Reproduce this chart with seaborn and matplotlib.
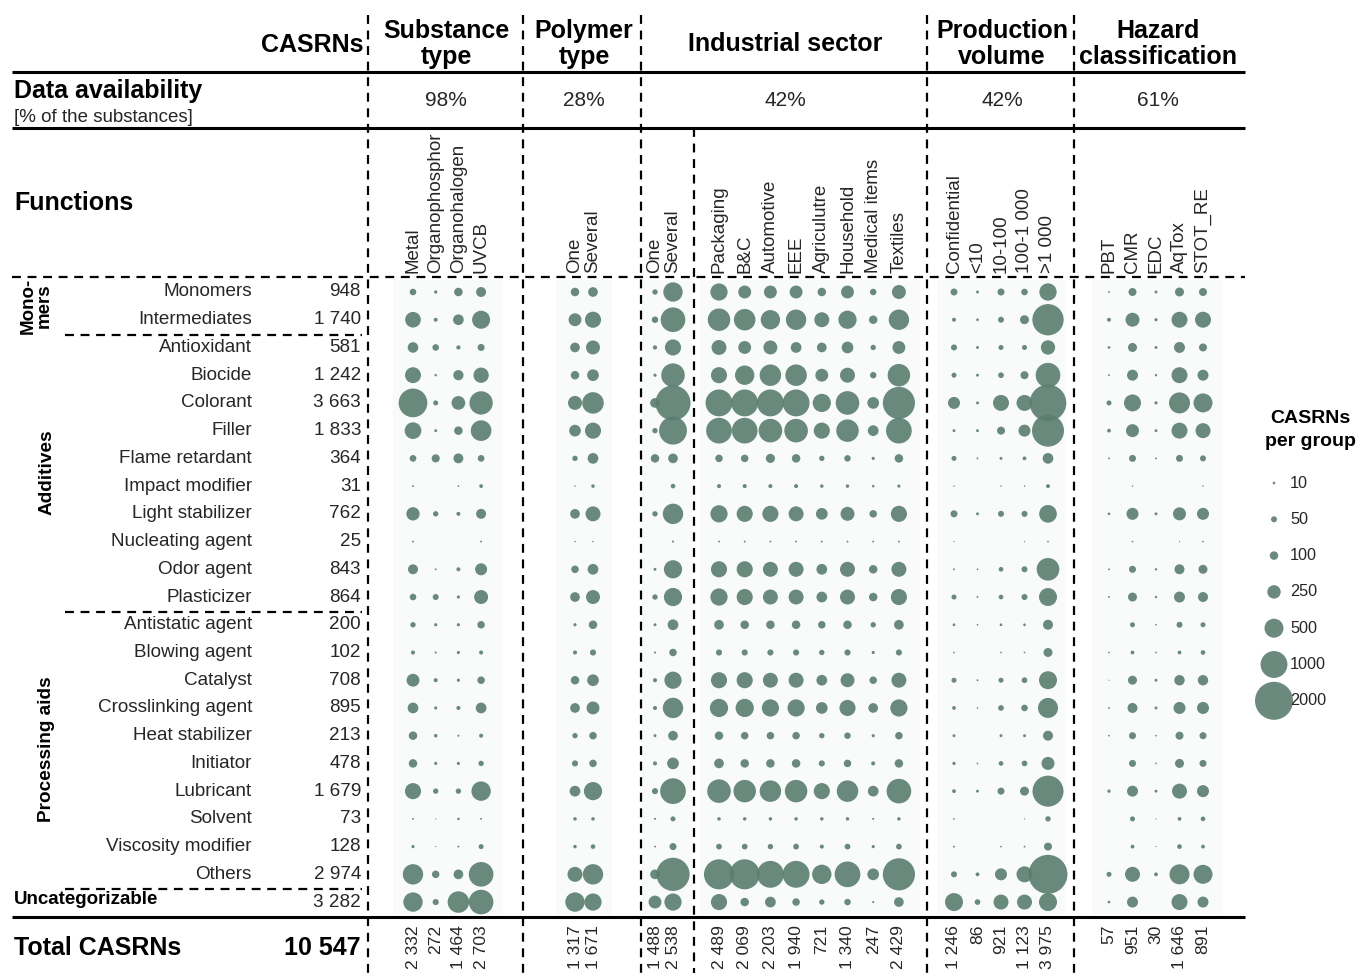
import pandas as pd
import seaborn as sns
import matplotlib
matplotlib.use("Agg")
import matplotlib.pyplot as plt
from matplotlib.patches import Rectangle

# ---- data -----------------------------------------------------------------
functions = ["Monomers", "Intermediates", "Antioxidant", "Biocide", "Colorant", "Filler",
             "Flame retardant", "Impact modifier", "Light stabilizer", "Nucleating agent",
             "Odor agent", "Plasticizer", "Antistatic agent", "Blowing agent", "Catalyst",
             "Crosslinking agent", "Heat stabilizer", "Initiator", "Lubricant", "Solvent",
             "Viscosity modifier", "Others", "Uncategorizable"]
function_totals = [948, 1740, 581, 1242, 3663, 1833, 364, 31, 762, 25, 843, 864, 200, 102,
                   708, 895, 213, 478, 1679, 73, 128, 2974, 3282]
total_casrns = 10547

group_titles = ["Substance\ntype", "Polymer\ntype", "Industrial sector", "Production\nvolume",
                "Hazard\nclassification"]
availability = ["98%", "28%", "42%", "42%", "61%"]

substance_types = ["Metal", "Organophosphor", "Organohalogen", "UVCB"]
polymer_types = ["One", "Several"]
sector_counts = ["One", "Several"]
sectors = ["Packaging", "B&C", "Automotive", "EEE", "Agriculutre", "Household",
           "Medical items", "Textiles"]
production_volumes = ["Confidential", "<10", "10-100", "100-1 000", ">1 000"]
hazards = ["PBT", "CMR", "EDC", "AqTox", "STOT_RE"]

substance_totals = [2332, 272, 1464, 2703]
polymer_totals = [1317, 1671]
sector_count_totals = [1488, 2538]
sector_totals = [2489, 2069, 2203, 1940, 721, 1340, 247, 2429]
production_totals = [1246, 86, 921, 1123, 3975]
hazard_totals = [57, 951, 30, 1646, 891]

# CASRNs per function (rows in the order of `functions`)
metal = [60, 340, 155, 350, 1140, 385, 62, 5, 245, 5, 138, 60, 40, 23, 230, 160, 100, 100, 360, 5, 14, 575, 520]
organophosphor = [15, 22, 60, 8, 35, 12, 90, 0, 40, 0, 5, 50, 14, 6, 23, 14, 17, 14, 40, 2, 2, 78, 52]
organohalogen = [100, 158, 25, 145, 260, 100, 135, 4, 22, 0, 22, 14, 14, 14, 14, 23, 6, 14, 40, 9, 5, 130, 640]
uvcb = [138, 450, 68, 325, 753, 590, 62, 20, 138, 5, 200, 270, 78, 23, 78, 160, 23, 40, 520, 5, 35, 840, 840]

poly_one = [100, 230, 130, 100, 270, 190, 40, 3, 130, 3, 78, 130, 14, 23, 100, 130, 40, 52, 160, 17, 17, 310, 520]
poly_several = [130, 360, 270, 190, 640, 360, 160, 17, 310, 3, 160, 270, 100, 52, 190, 230, 78, 78, 460, 17, 29, 575, 410]

sector_one = [40, 58, 25, 14, 130, 40, 100, 0, 40, 0, 12, 40, 12, 6, 23, 23, 12, 23, 52, 6, 5, 130, 230]
sector_several = [520, 840, 360, 770, 1700, 1075, 130, 29, 575, 6, 460, 460, 160, 78, 410, 575, 130, 190, 915, 35, 69, 1525, 410]

packaging = [410, 700, 310, 360, 1000, 915, 78, 23, 410, 5, 360, 410, 130, 52, 360, 460, 100, 130, 770, 17, 46, 1250, 360]
bc = [230, 640, 230, 520, 1000, 915, 78, 23, 360, 5, 360, 360, 100, 52, 360, 460, 78, 100, 700, 17, 46, 1250, 100]
automotive = [230, 520, 270, 640, 1000, 770, 115, 23, 360, 5, 310, 310, 100, 52, 310, 410, 78, 100, 640, 17, 40, 1000, 160]
eee = [230, 575, 160, 640, 1000, 770, 100, 23, 310, 5, 310, 310, 100, 52, 310, 410, 78, 100, 700, 17, 46, 1000, 78]
agriculture = [100, 310, 130, 230, 460, 360, 40, 17, 190, 5, 160, 160, 78, 40, 160, 190, 40, 52, 360, 17, 23, 520, 40]
household = [230, 460, 190, 310, 770, 700, 58, 17, 270, 5, 310, 310, 100, 52, 270, 360, 58, 78, 640, 17, 46, 915, 58]
medical = [58, 100, 40, 58, 190, 160, 14, 9, 78, 5, 100, 100, 40, 14, 78, 130, 14, 23, 160, 6, 14, 190, 6]
textiles = [270, 575, 230, 700, 1430, 915, 100, 14, 360, 5, 310, 360, 130, 52, 310, 410, 78, 100, 840, 17, 46, 1430, 130]

confidential = [68, 22, 50, 35, 200, 12, 35, 3, 68, 2, 5, 35, 10, 4, 35, 20, 12, 15, 20, 4, 5, 50, 450]
lt10 = [12, 10, 12, 12, 12, 12, 5, 0, 12, 0, 4, 5, 4, 0, 5, 4, 0, 4, 12, 0, 0, 20, 45]
p10_100 = [68, 50, 35, 45, 354, 89, 12, 3, 50, 0, 30, 30, 10, 4, 35, 45, 12, 30, 68, 0, 4, 200, 311]
p100_1000 = [60, 112, 35, 89, 354, 200, 20, 3, 50, 2, 50, 50, 10, 4, 45, 60, 12, 45, 112, 2, 5, 354, 311]
gt1000 = [416, 1357, 284, 843, 1860, 1417, 158, 22, 432, 4, 712, 448, 138, 112, 450, 554, 138, 234, 1330, 40, 89, 2100, 450]

pbt = [5, 22, 10, 5, 35, 20, 5, 0, 10, 0, 5, 5, 0, 4, 2, 5, 4, 0, 15, 0, 0, 35, 10]
cmr = [89, 271, 112, 167, 400, 234, 68, 3, 200, 4, 68, 112, 35, 20, 112, 138, 68, 68, 167, 35, 20, 311, 167]
edc = [12, 14, 12, 8, 14, 12, 5, 0, 12, 0, 8, 8, 4, 4, 12, 12, 4, 4, 12, 2, 2, 20, 0]
aqtox = [112, 354, 167, 354, 610, 354, 68, 0, 234, 2, 138, 167, 50, 20, 150, 200, 89, 112, 311, 20, 30, 554, 354]
stot_re = [89, 354, 89, 167, 500, 311, 50, 3, 200, 4, 112, 138, 35, 30, 150, 200, 68, 68, 200, 30, 20, 500, 167]

legend_values = [10, 50, 100, 250, 500, 1000, 2000]

# ---- layout (figure pixels) -------------------------------------------------
W, H = 1358, 973
ROW_Y0, ROW_STEP = 292, 27.73
BUBBLE = "#5b7d6f"
LEFT, RIGHT = 12, 1245

# column blocks: labels, values, totals, first x, spacing
blocks = [
    (substance_types, [metal, organophosphor, organohalogen, uvcb], substance_totals, 413, 22.7),
    (polymer_types, [poly_one, poly_several], polymer_totals, 575, 18),
    (sector_counts, [sector_one, sector_several], sector_count_totals, 655, 18),
    (sectors, [packaging, bc, automotive, eee, agriculture, household, medical, textiles],
     sector_totals, 719, 25.7),
    (production_volumes, [confidential, lt10, p10_100, p100_1000, gt1000], production_totals, 954, 23.5),
    (hazards, [pbt, cmr, edc, aqtox, stot_re], hazard_totals, 1109, 23.5),
]
group_centers = [446, 584, 785, 1002, 1158]
group_bands = [(393, 502), (556, 612), (642, 692), (700, 920), (937, 1066), (1092, 1222)]
vlines = [368, 523, 641, 927, 1074]


def fmt(n):
    return f"{n:,}".replace(",", " ")


def row_y(i):
    return ROW_Y0 + i * ROW_STEP


records = []
col_x = []
for labels, values, totals, x0, step in blocks:
    for j, (lab, vals, tot) in enumerate(zip(labels, values, totals)):
        x = x0 + j * step
        col_x.append((x, lab, tot))
        for i, v in enumerate(vals):
            records.append({"x": x, "y": row_y(i), "value": v})
df = pd.DataFrame(records)
df = df[df["value"] > 0]

sns.set_theme(style="white")
plt.rcParams["font.family"] = ["Liberation Sans", "DejaVu Sans"]

fig = plt.figure(figsize=(W / 100, H / 100), dpi=100)
ax = fig.add_axes([0, 0, 1, 1])
ax.set_xlim(0, W)
ax.set_ylim(H, 0)
ax.axis("off")

# faint background bands behind the bubble columns
for x0, x1 in group_bands:
    ax.add_patch(Rectangle((x0, 280), x1 - x0, 634, color="#f8fbfa", zorder=0, lw=0))

size_kw = dict(sizes=(0, 1498), size_norm=(0, 4000))
sns.scatterplot(data=df, x="x", y="y", size="value", color=BUBBLE, alpha=0.9,
                linewidth=0, legend=False, ax=ax, zorder=3, **size_kw)

# ---- lines ------------------------------------------------------------------
solid = dict(color="black", lw=2.2, solid_capstyle="butt")
dashed = dict(color="black", lw=1.6, linestyle=(0, (4, 3)))
for y in [72, 128, 917]:
    ax.plot([LEFT, RIGHT], [y, y], **solid)
ax.plot([LEFT, RIGHT], [277, 277], **dashed)
for x in vlines:
    ax.plot([x, x], [15, H], **dashed)
ax.plot([694, 694], [128, H], **dashed)
for a, b in [(1, 2), (11, 12), (21, 22)]:
    y = (row_y(a) + row_y(b)) / 2 + 1
    ax.plot([65, 362], [y, y], **dashed)

# ---- header text ------------------------------------------------------------
bold = dict(fontweight="bold", color="black")
ax.text(364, 45, "CASRNs", ha="right", va="center", fontsize=18, **bold)
for cx, title, pct in zip(group_centers, group_titles, availability):
    ax.text(cx, 44, title, ha="center", va="center", fontsize=18, linespacing=1.08, **bold)
    ax.text(cx, 101, pct, ha="center", va="center", fontsize=15)
ax.text(14, 91, "Data availability", ha="left", va="center", fontsize=18, **bold)
ax.text(14, 117, "[% of the substances]", ha="left", va="center", fontsize=13.5)
ax.text(14, 203, "Functions", ha="left", va="center", fontsize=18, **bold)

for x, lab, tot in col_x:
    ax.text(x, 273, lab, rotation=90, ha="center", va="bottom", fontsize=13.5)
    ax.text(x, 925, fmt(tot), rotation=90, ha="center", va="top", fontsize=12.6)

# ---- row labels -------------------------------------------------------------
for i, (name, tot) in enumerate(zip(functions, function_totals)):
    y = row_y(i)
    if name == "Uncategorizable":
        ax.text(14, y - 3, name, ha="left", va="center", fontsize=13.5, **bold)
    else:
        ax.text(252, y, name, ha="right", va="center", fontsize=13.6)
    ax.text(361, y, fmt(tot), ha="right", va="center", fontsize=13.6)

ax.text(36, (row_y(0) + row_y(1)) / 2, "Mono-\nmers", rotation=90, ha="center", va="center",
        fontsize=13.5, linespacing=0.95, **bold)
ax.text(47, (row_y(2) + row_y(11)) / 2, "Additives", rotation=90, ha="center", va="center",
        fontsize=13.7, **bold)
ax.text(47, (row_y(12) + row_y(21)) / 2, "Processing aids", rotation=90, ha="center",
        va="center", fontsize=13.7, **bold)

ax.text(14, 948, "Total CASRNs", ha="left", va="center", fontsize=18, **bold)
ax.text(361, 948, fmt(total_casrns), ha="right", va="center", fontsize=18, **bold)

# ---- size legend ------------------------------------------------------------
ax.text(1310, 430, "CASRNs\nper group", ha="center", va="center", fontsize=14,
        linespacing=1.4, **bold)
leg_y = [483 + k * 36.3 for k in range(len(legend_values))]
leg = pd.DataFrame({"x": [1274] * len(legend_values), "y": leg_y, "value": legend_values})
sns.scatterplot(data=leg, x="x", y="y", size="value", color=BUBBLE, alpha=0.9,
                linewidth=0, legend=False, ax=ax, zorder=3, **size_kw)
for y, v in zip(leg_y, legend_values):
    ax.text(1290, y, str(v), ha="left", va="center", fontsize=11.7)

ax.set_xlim(0, W)
ax.set_ylim(H, 0)
fig.savefig("out.png", dpi=100, facecolor="white")
